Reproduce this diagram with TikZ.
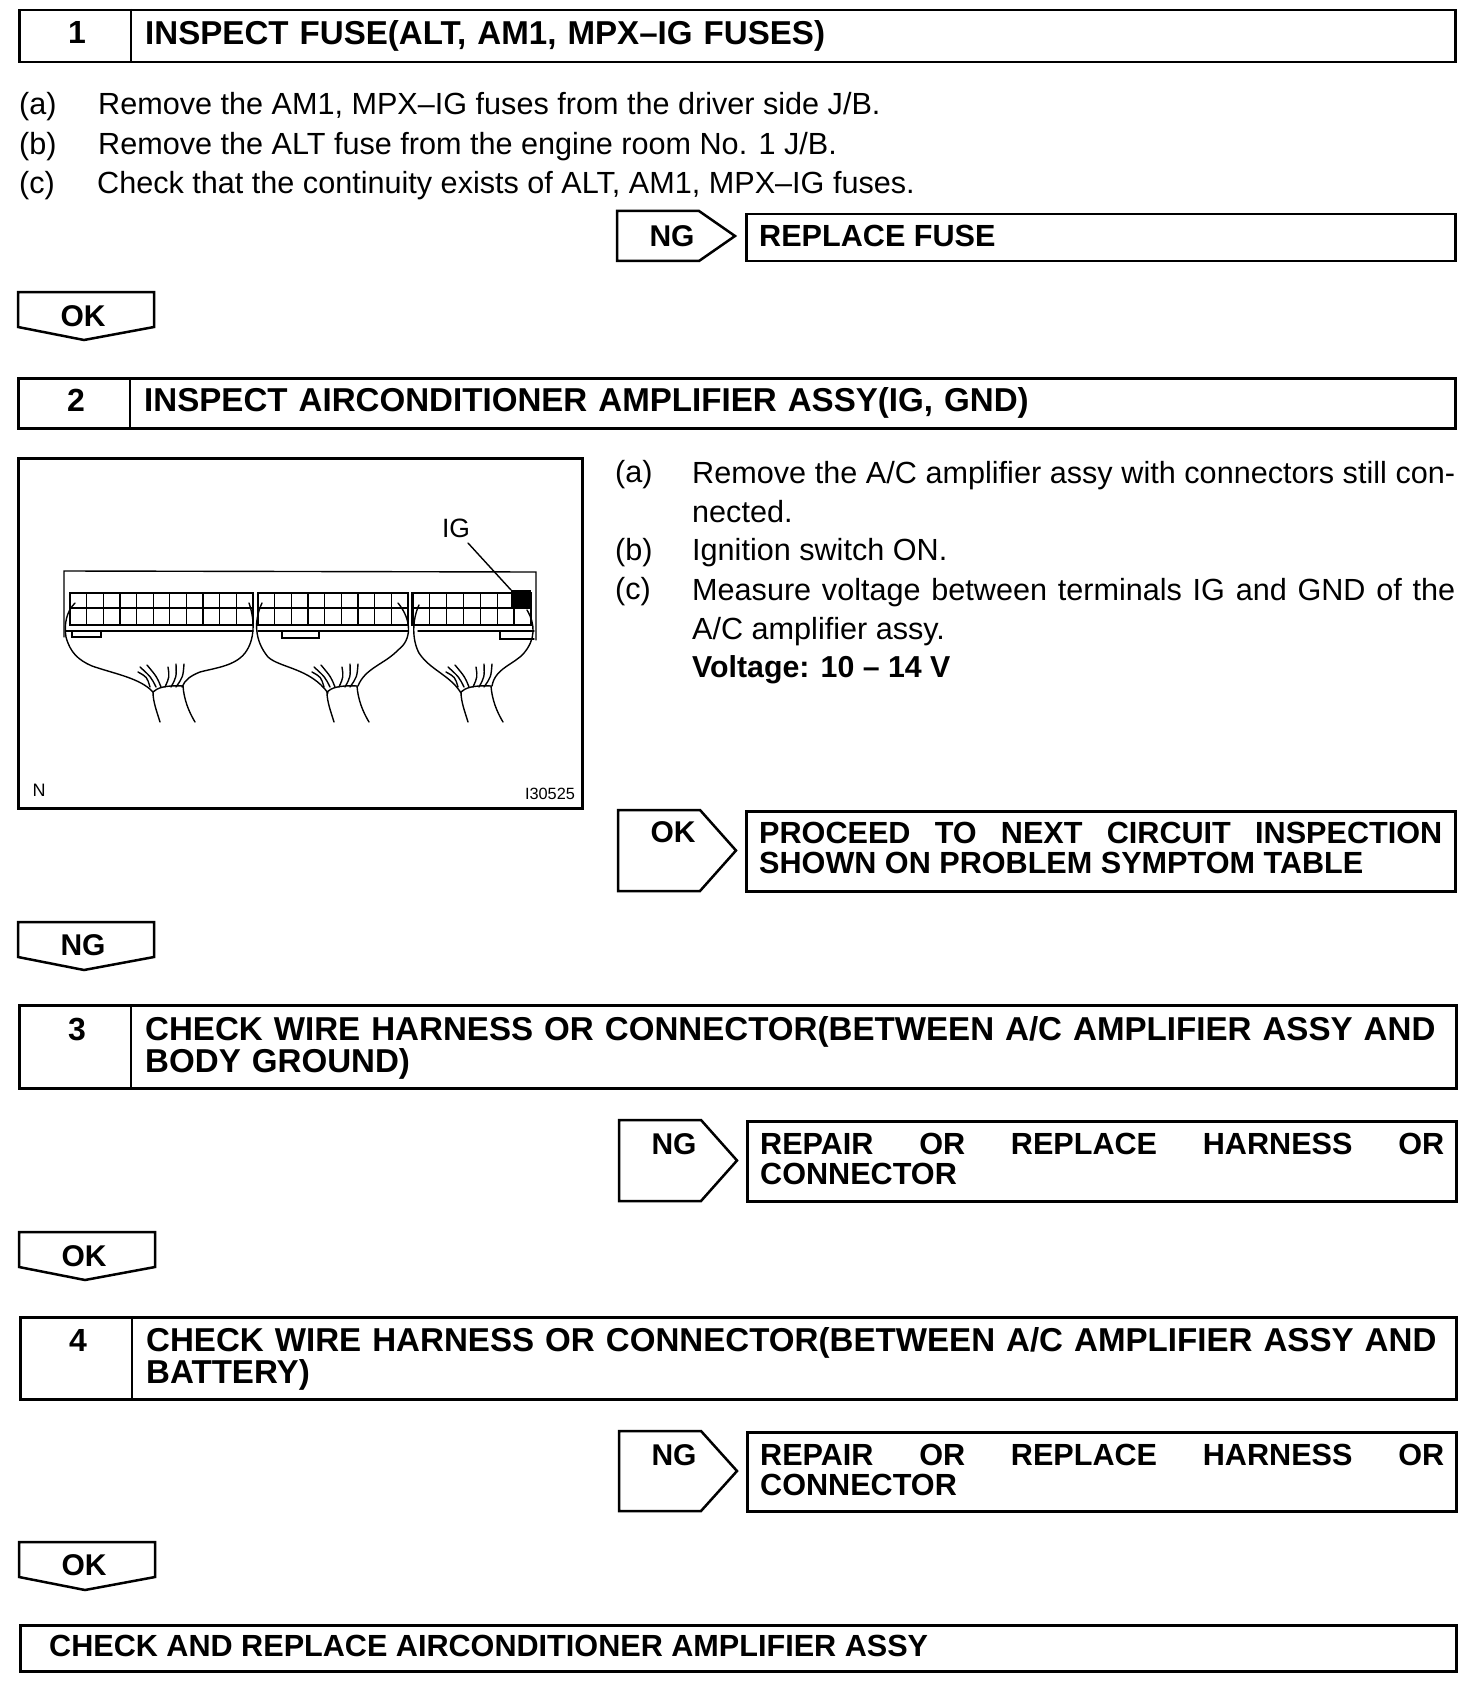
\documentclass[tikz,border=0pt]{standalone}
\usepackage{fontspec}
\setmainfont{Liberation Sans}
\usepackage{xcolor}
\usetikzlibrary{calc,positioning}
\tikzset{
  framebox/.style={draw,line width=2.5pt,anchor=north west,inner sep=0pt},
  headtxt/.style={font=\fontsize{33.1}{32.5}\selectfont\bfseries,anchor=north west,inner sep=0pt,text width=1310pt,align=left},
  numtxt/.style={font=\fontsize{32}{32}\selectfont\bfseries,inner sep=0pt},
  tagtxt/.style={font=\fontsize{30}{30}\selectfont\bfseries,inner sep=0pt},
  resulttxt/.style={font=\fontsize{30.6}{30}\selectfont\bfseries,anchor=north west,inner sep=0pt,align=justify},
  bodytxt/.style={font=\fontsize{30.6}{39}\selectfont,anchor=base west,inner sep=0pt},
  tagline/.style={line width=2.5pt,line join=miter},
  wire/.style={line width=1.4pt,line cap=round},
  plug/.style={line width=2.8pt},
  grid/.style={line width=1.2pt}
}
\begin{document}
\begin{tikzpicture}[x=1pt,y=-1pt]
  \useasboundingbox (0,0) rectangle (1472,1688);
  % step 1
  \node[framebox,minimum width=1436pt,minimum height=52pt] (headA) at (18,9) {};
  \draw[line width=2.5pt] (131,9)--(131,61);
  \node[numtxt] (numA) at (77,32) {1};
  \node[headtxt] (txtA) at (145,20) {INSPECT FUSE(ALT, AM1, MPX--IG FUSES)};
  \node[bodytxt] (itemAa) at (19,115) {(a)};
  \node[bodytxt] (lineAa) at (98,115) {Remove the AM1, MPX--IG fuses from the driver side J/B.};
  \node[bodytxt] (itemAb) at (19,155) {(b)};
  \node[bodytxt] (lineAb) at (98,155) {Remove the ALT fuse from the engine room No. 1 J/B.};
  \node[bodytxt] (itemAc) at (19,194) {(c)};
  \node[bodytxt] (lineAc) at (97,194) {Check that the continuity exists of ALT, AM1, MPX--IG fuses.};
  % step 2
  \node[framebox,minimum width=1437pt,minimum height=50pt] (headB) at (17,377) {};
  \draw[line width=2.5pt] (130,377)--(130,427);
  \node[numtxt] (numB) at (76,400) {2};
  \node[headtxt] (txtB) at (144,387) {INSPECT AIRCONDITIONER AMPLIFIER ASSY(IG, GND)};
  \node[bodytxt] (itemBa) at (615,482) {(a)};
  \node[bodytxt,anchor=north west,text width=763pt,align=justify] (lineBa) at (692,461) {Remove the A/C amplifier assy with connectors still con-\linebreak nected.};
  \node[bodytxt] (itemBb) at (615,560) {(b)};
  \node[bodytxt] (lineBb) at (692,560) {Ignition switch ON.};
  \node[bodytxt] (itemBc) at (615,599) {(c)};
  \node[bodytxt,anchor=north west,text width=763pt,align=justify] (lineBc) at (692,578) {Measure voltage between terminals IG and GND of the\linebreak A/C amplifier assy.};
  \node[bodytxt,font=\fontsize{30.3}{39}\selectfont\bfseries] (lineBv) at (692,677) {Voltage: 10 -- 14 V};
  % picture of the connectors
  \node[framebox,minimum width=564pt,minimum height=350pt] (figbox) at (17,457) {};
  \node[font=\fontsize{26.5}{26}\selectfont,inner sep=0pt] (sigIG) at (456,528) {IG};
  \node[font=\fontsize{18}{18}\selectfont,inner sep=0pt] (figN) at (39,790) {N};
  \node[font=\fontsize{16.3}{16}\selectfont,inner sep=0pt] (figcode) at (550,794) {I30525};
  \draw[wire] (64,637)--(64,571)--(536,572)--(536,640);
  \foreach \xa/\xb/\n in {70/253/11,258/408/9,412.5/531/7}{
    \foreach \k in {1,...,\n}{\draw[grid] ({\xa+(\xb-\xa)*\k/\n},593)--({\xa+(\xb-\xa)*\k/\n},625);}
    \draw[plug] (\xa,625)--(\xa,593)--(\xb,593)--(\xb,625)--cycle;
    \draw[grid] (\xa,608)--(\xb,608);
  }
  \draw[wire] (66,631)--(253,631) (258,631)--(408,631) (418,631)--(534,631);
  \fill (511,590) rectangle (531,608);
  \draw[wire] (468,543)--(511,590);
  \draw[wire] (72,631)--(72,637)--(101,637)--(101,631);
  \draw[wire] (282,631)--(282,638)--(319,638)--(319,631);
  \draw[wire] (500,631)--(500,639)--(534,639);
  % hoods and wire bundles
  \draw[wire] (75,603) .. controls (66,612) and (64,625) .. (66,637) .. controls (70,652) and (78,660) .. (92,666) .. controls (115,674) and (140,678) .. (153,692);
  \draw[wire] (249,603) .. controls (255,620) and (255,640) .. (245,653) .. controls (235,666) and (215,668) .. (200,672) .. controls (190,676) and (185,680) .. (182,687);
  \draw[wire] (262,603) .. controls (254,620) and (254,640) .. (268,657) .. controls (280,668) and (310,668) .. (328,693);
  \draw[wire] (398,603) .. controls (412,620) and (412,640) .. (398,650) .. controls (385,664) and (365,668) .. (358,686);
  \draw[wire] (419,605) .. controls (412,620) and (412,640) .. (419,653) .. controls (430,670) and (450,675) .. (461,693);
  \draw[wire] (527,610) .. controls (536,625) and (535,640) .. (524,653) .. controls (515,664) and (495,668) .. (492,686);
  \foreach \dx in {0,174,308}{
    \begin{scope}[xshift=\dx pt]
      \draw[wire] (153,692) .. controls (157,688) and (165,685) .. (183,686);
      \draw[wire] (153,692) .. controls (153,702) and (157,712) .. (160,722);
      \draw[wire] (183,686) .. controls (184,700) and (189,712) .. (195,722);
      \foreach \xs/\xe/\ye in {150/138/672,156/140/667,161/147/665,165/168/667,171/176/664,176/184/664}{
        \draw[wire] (\xs,687) .. controls ({(\xs+\xe)/2+3},677) .. (\xe,\ye);
      }
    \end{scope}
  }
  % tags pointing right
  \foreach \tagx/\top/\bot/\tagname/\ty in {617/211/261/NG/236,618/810/891/OK/832,619/1120/1201/NG/1144,619/1431/1511/NG/1455}{
    \draw[tagline] (\tagx,\top)--(\tagx+82,\top)--(\tagx+118,{(\top+\bot)/2})--(\tagx+82,\bot)--(\tagx,\bot)--cycle;
    \node[tagtxt] (tagR\top) at (\tagx+55,\ty) {\tagname};
  }
  % results
  \node[framebox,minimum width=709pt,minimum height=47pt] (resA) at (745,213) {};
  \node[resulttxt] (resAtxt) at (759,225) {REPLACE FUSE};
  \node[framebox,minimum width=709pt,minimum height=80pt] (resB) at (745,810) {};
  \node[resulttxt,text width=683pt] (resBtxt) at (759,822) {PROCEED TO NEXT CIRCUIT INSPECTION\linebreak SHOWN ON PROBLEM SYMPTOM TABLE};
  \node[framebox,minimum width=709pt,minimum height=80pt] (resC) at (746,1120) {};
  \node[resulttxt,text width=684pt] (resCtxt) at (760,1133) {REPAIR OR REPLACE HARNESS OR\linebreak CONNECTOR};
  \node[framebox,minimum width=709pt,minimum height=79pt] (resD) at (746,1431) {};
  \node[resulttxt,text width=684pt] (resDtxt) at (760,1444) {REPAIR OR REPLACE HARNESS OR\linebreak CONNECTOR};
  % tags pointing down
  \foreach \tagx/\top/\tagname/\ty in {18/292/OK/316,18/922/NG/945,19/1232/OK/1256,19/1542/OK/1565}{
    \draw[tagline] (\tagx,\top)--(\tagx+136,\top)--(\tagx+136,\top+35)--(\tagx+66,\top+48)--(\tagx,\top+35)--cycle;
    \node[tagtxt] (tagD\top) at (\tagx+65,\ty) {\tagname};
  }
  % step 3
  \node[framebox,minimum width=1437pt,minimum height=83pt] (headC) at (18,1004) {};
  \draw[line width=2.5pt] (131,1004)--(131,1087);
  \node[numtxt] (numC) at (77,1029) {3};
  \node[headtxt] (txtC) at (145,1016) {CHECK WIRE HARNESS OR CONNECTOR(BETWEEN A/C AMPLIFIER ASSY AND BODY GROUND)};
  % step 4
  \node[framebox,minimum width=1436pt,minimum height=82pt] (headD) at (19,1316) {};
  \draw[line width=2.5pt] (132,1316)--(132,1398);
  \node[numtxt] (numD) at (78,1340) {4};
  \node[headtxt] (txtD) at (146,1327) {CHECK WIRE HARNESS OR CONNECTOR(BETWEEN A/C AMPLIFIER ASSY AND BATTERY)};
  % last box
  \node[framebox,minimum width=1436pt,minimum height=46pt] (headE) at (19,1624) {};
  \node[tagtxt,font=\fontsize{30.6}{30}\selectfont\bfseries,anchor=west] (txtE) at (49,1646) {CHECK AND REPLACE AIRCONDITIONER AMPLIFIER ASSY};
\end{tikzpicture}
\end{document}
